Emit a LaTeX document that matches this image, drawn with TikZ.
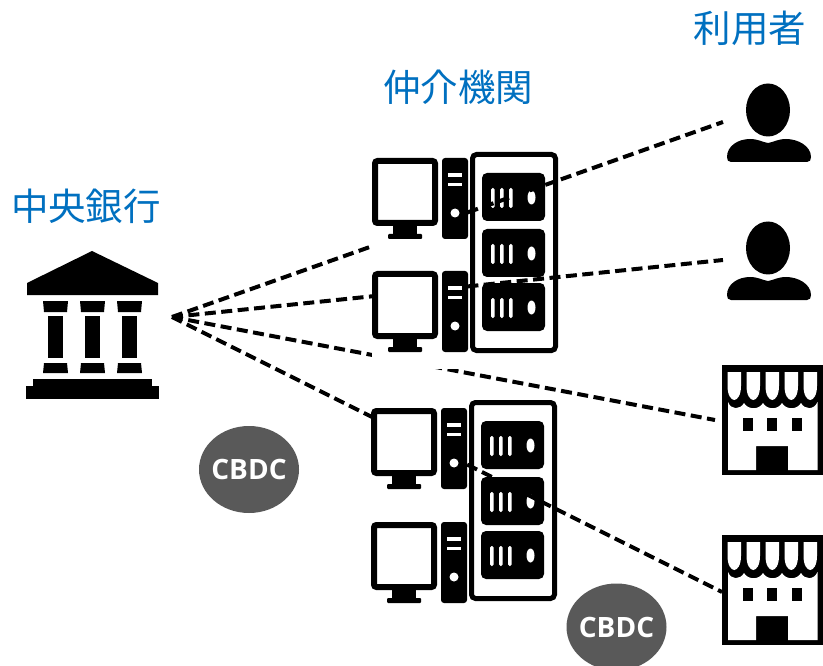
\documentclass[tikz,border=0pt]{standalone}
\usepackage{fontspec}
\setmainfont{Open Sans}
\newfontfamily\cjk{Noto Sans CJK JP}
\usetikzlibrary{shapes.geometric}
\definecolor{lab}{HTML}{0070C0}
\definecolor{cbdcfill}{HTML}{595959}
\tikzset{
  title/.style={text=lab,font=\cjk\fontsize{37.5}{40}\selectfont,inner sep=0pt,anchor=center},
  token/.style={ellipse,fill=cbdcfill,text=white,minimum width=100pt,minimum height=87pt,inner sep=0pt,font=\bfseries\fontsize{28}{30}\selectfont},
  link/.style={line width=4pt,dash pattern=on 11pt off 5.5pt},
  ink/.style={fill=black,draw=none},
  paper/.style={fill=white,draw=none}
}
\newcommand{\computerIcon}[2]{\begin{scope}[shift={(#1,#2)}]
  \fill[white] (372,156) rectangle (468,256);
  \draw[line width=6pt,rounded corners=2.5pt,fill=white] (375,161) rectangle (435,223);
  \fill[ink] (393,226) rectangle (417,235);
  \fill[ink,rounded corners=1pt] (388,234) rectangle (422,239);
  \fill[ink,rounded corners=3pt] (442,158) rectangle (468,239);
  \fill[paper] (448,173) rectangle (462,177);
  \fill[paper] (448,183) rectangle (462,186);
  \fill[paper] (455,213) circle (4.5pt);
\end{scope}}
\newcommand{\serverUnit}[2]{\begin{scope}[shift={(#1,#2)}]
  \fill[ink,rounded corners=5pt] (482,173) rectangle (545,221);
  \fill[paper,rounded corners=1.5pt] (491,188) rectangle (494.5,208);
  \fill[paper,rounded corners=1.5pt] (500,188) rectangle (503.5,208);
  \fill[paper,rounded corners=1.5pt] (509,188) rectangle (512.5,208);
  \fill[paper] (531.5,197.5) ellipse (4pt and 7pt);
\end{scope}}
\newcommand{\rackIcon}[2]{\begin{scope}[shift={(#1,#2)}]
  \draw[line width=5pt,rounded corners=4pt,fill=white] (472.5,154.5) rectangle (555.5,350.5);
  \serverUnit{0}{0}\serverUnit{0}{56}\serverUnit{0}{110}
\end{scope}}
\newcommand{\personIcon}[2]{\begin{scope}[shift={(#1,#2)}]
  \fill[ink] (768,110) ellipse (22pt and 26.5pt);
  \fill[ink] (731,162) .. controls (728,162) and (727,160) .. (727,157)
    .. controls (727,146) and (738,139) .. (750,139)
    .. controls (758,139) and (762,142) .. (768,143)
    .. controls (774,142) and (778,139) .. (786,139)
    .. controls (798,139) and (811,146) .. (811,157)
    .. controls (811,160) and (810,162) .. (807,162) -- cycle;
\end{scope}}
\newcommand{\awning}[1]{\fill[paper] (#1,372) -- (#1+13.5,372) -- (#1+13.5,386)
   .. controls (#1+13.5,395) and (#1+10,400) .. (#1+6.75,400)
   .. controls (#1+3.5,400) and (#1,395) .. (#1,386) -- cycle;}
\newcommand{\storeIcon}[2]{\begin{scope}[shift={(#1,#2)}]
  \fill[ink] (722,365) rectangle (823,475);
  \awning{727.5}\awning{746.5}\awning{765.5}\awning{784.5}\awning{803.5}
  \fill[paper] (728,402)
    .. controls (731,410) and (740,410) .. (744,403)
    .. controls (748,410) and (759,410) .. (763,403)
    .. controls (767,410) and (778,410) .. (782,403)
    .. controls (786,410) and (797,410) .. (801,403)
    .. controls (805,410) and (814,410) .. (817.5,402)
    -- (817.5,470) -- (788,470) -- (788,446) -- (756,446) -- (756,470) -- (728,470) -- cycle;
  \fill[ink] (743,418) rectangle (753,431);
  \fill[ink] (767,418) rectangle (777,431);
  \fill[ink] (792,418) rectangle (802,431);
\end{scope}}
\begin{document}
\begin{tikzpicture}[x=1pt,y=-1pt]
\useasboundingbox (0,0) rectangle (823,666);
\fill[white] (0,0) rectangle (823,666);
% temple
\fill[ink] (92,251) -- (158,283) -- (158,295) -- (27,295) -- (27,283) -- cycle;
\foreach \d in {0,37,74}{
  \fill[ink,shift={(\d,0)}] (43,301) -- (68,301) -- (67,312) -- (44,312) -- cycle;
  \fill[ink,shift={(\d,0)}] (47.5,316) rectangle (63,358);
  \fill[ink,shift={(\d,0)}] (44,363) -- (67,363) -- (68,373) -- (43,373) -- cycle;
}
\fill[ink] (33,379) rectangle (152,386);
\fill[ink] (26,386) rectangle (159,399);
% racks
\rackIcon{0}{0}
\rackIcon{-1}{248}
% connector ends
\coordinate (hub) at (172,317);
\coordinate (user1) at (723,122);
\coordinate (user2) at (723,260);
\coordinate (shop1) at (715,420);
\coordinate (shop2) at (722,592);
\draw[link] (hub) -- (user1);
\draw[link] (hub) -- (user2);
\draw[link] (hub) -- (shop1);
\draw[link] (hub) -- (shop2);
% computers
\computerIcon{0}{0}
\computerIcon{0}{113}
\computerIcon{-1}{250}
\computerIcon{-1}{364}
% users and shops
\personIcon{0}{0}
\personIcon{0}{138}
\storeIcon{0}{0}
\storeIcon{0}{170}
% labels
\node[title] (central) at (86,206) {中央銀行};
\node[title] (inter) at (458,87) {仲介機関};
\node[title] (users) at (750,28) {利用者};
\node[token] (cbdc1) at (249,469.5) {\makebox[0pt]{CBDC}};
\node[token] (cbdc2) at (616.5,627) {\makebox[0pt]{CBDC}};
\end{tikzpicture}
\end{document}
